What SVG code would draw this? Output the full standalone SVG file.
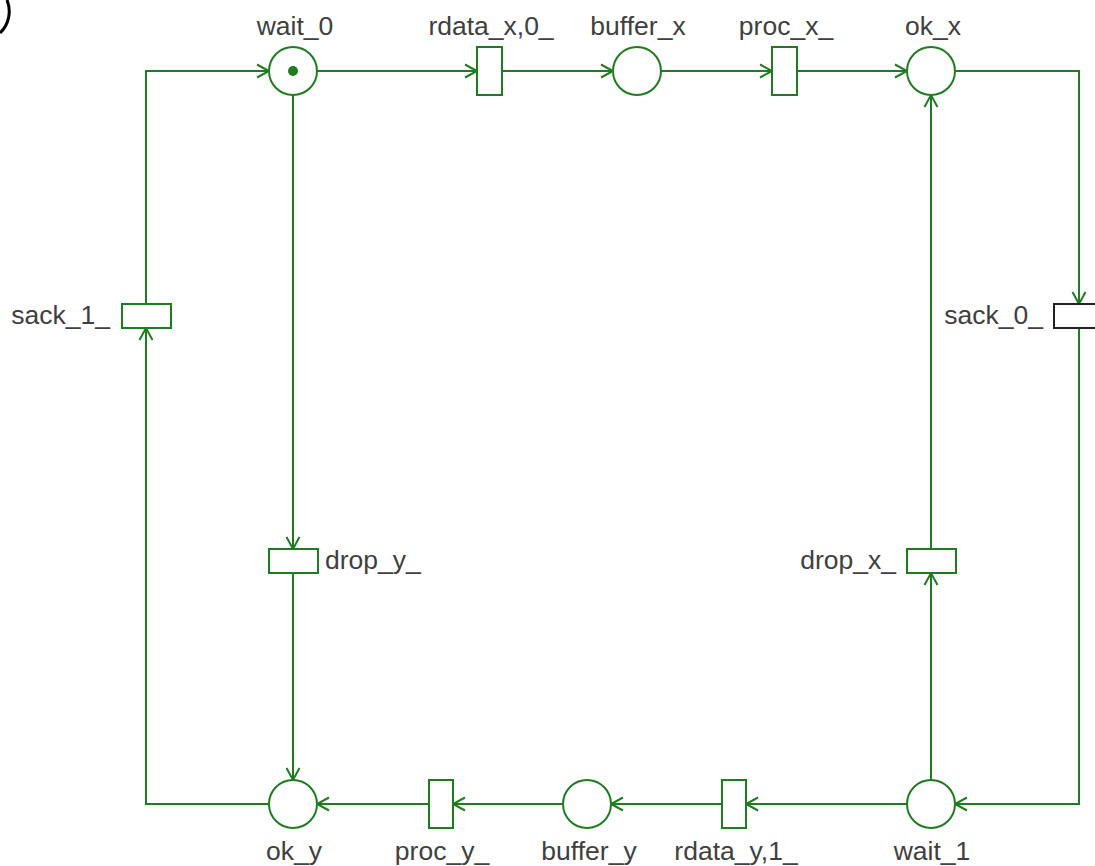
<svg xmlns="http://www.w3.org/2000/svg" width="1095" height="866" viewBox="0 0 1095 866">
<style>
.place{fill:#fff;stroke:#1e7d1e;stroke-width:2}
.trans{fill:#fff;stroke:#1e7d1e;stroke-width:2}
.edge{fill:none;stroke:#1e7d1e;stroke-width:2}
.lbl{font-family:"Liberation Sans",Arial,sans-serif;font-size:26.5px;fill:#404040}
</style>
<defs>
<marker id="arr" markerUnits="userSpaceOnUse" markerWidth="16" markerHeight="16" refX="13" refY="8" orient="auto">
<path d="M1,1.5 L13,8 L1,14.5" fill="none" stroke="#1e7d1e" stroke-width="2"/>
</marker>
</defs>
<rect width="1095" height="866" fill="#fff"/>
<path d="M7,0 A30,30 0 0 1 0,33" fill="none" stroke="#000" stroke-width="3"/>
<g id="connectors">
<path class="edge" d="M317,71 H477" marker-end="url(#arr)"/>
<path class="edge" d="M502,71 H613" marker-end="url(#arr)"/>
<path class="edge" d="M661,71 H772" marker-end="url(#arr)"/>
<path class="edge" d="M797,71 H907" marker-end="url(#arr)"/>
<path class="edge" d="M955,71 H1079 V304" marker-end="url(#arr)"/>
<path class="edge" d="M1079,328 V804 H955" marker-end="url(#arr)"/>
<path class="edge" d="M907,804 H746" marker-end="url(#arr)"/>
<path class="edge" d="M722,804 H611" marker-end="url(#arr)"/>
<path class="edge" d="M563,804 H453" marker-end="url(#arr)"/>
<path class="edge" d="M429,804 H317" marker-end="url(#arr)"/>
<path class="edge" d="M269,804 H146 V328" marker-end="url(#arr)"/>
<path class="edge" d="M146,304 V71 H269" marker-end="url(#arr)"/>
<path class="edge" d="M293,95 V549" marker-end="url(#arr)"/>
<path class="edge" d="M293,573 V780" marker-end="url(#arr)"/>
<path class="edge" d="M931,780 V573" marker-end="url(#arr)"/>
<path class="edge" d="M931,549 V95" marker-end="url(#arr)"/>
</g>
<g id="wait_0"><circle class="place" cx="293" cy="71" r="24"/><circle cx="293" cy="71" r="5" fill="#1e7d1e"/><text class="lbl" x="295" y="35" text-anchor="middle">wait_0</text></g>
<g id="rdata_x_0"><rect class="trans" x="477" y="47" width="25" height="48"/><text class="lbl" x="491" y="35" text-anchor="middle">rdata_x,0_</text></g>
<g id="buffer_x"><circle class="place" cx="637" cy="71" r="24"/><text class="lbl" x="638" y="35" text-anchor="middle">buffer_x</text></g>
<g id="proc_x"><rect class="trans" x="772" y="47" width="25" height="48"/><text class="lbl" x="786" y="35" text-anchor="middle">proc_x_</text></g>
<g id="ok_x"><circle class="place" cx="931" cy="71" r="24"/><text class="lbl" x="933" y="35" text-anchor="middle">ok_x</text></g>
<g id="sack_0"><rect x="1054" y="304" width="49" height="24" fill="#fff" stroke="#222" stroke-width="2"/><text class="lbl" x="1043" y="324" text-anchor="end">sack_0_</text></g>
<g id="sack_1"><rect class="trans" x="122" y="304" width="49" height="24"/><text class="lbl" x="110" y="324" text-anchor="end">sack_1_</text></g>
<g id="drop_y"><rect class="trans" x="269" y="549" width="49" height="24"/><text class="lbl" x="325" y="569">drop_y_</text></g>
<g id="drop_x"><rect class="trans" x="907" y="549" width="49" height="24"/><text class="lbl" x="896" y="569" text-anchor="end">drop_x_</text></g>
<g id="ok_y"><circle class="place" cx="293" cy="804" r="24"/><text class="lbl" x="294" y="860" text-anchor="middle">ok_y</text></g>
<g id="proc_y"><rect class="trans" x="429" y="780" width="24" height="48"/><text class="lbl" x="442" y="860" text-anchor="middle">proc_y_</text></g>
<g id="buffer_y"><circle class="place" cx="587" cy="804" r="24"/><text class="lbl" x="589" y="860" text-anchor="middle">buffer_y</text></g>
<g id="rdata_y_1"><rect class="trans" x="722" y="780" width="24" height="48"/><text class="lbl" x="736" y="860" text-anchor="middle">rdata_y,1_</text></g>
<g id="wait_1"><circle class="place" cx="931" cy="804" r="24"/><text class="lbl" x="932" y="860" text-anchor="middle">wait_1</text></g>
</svg>
